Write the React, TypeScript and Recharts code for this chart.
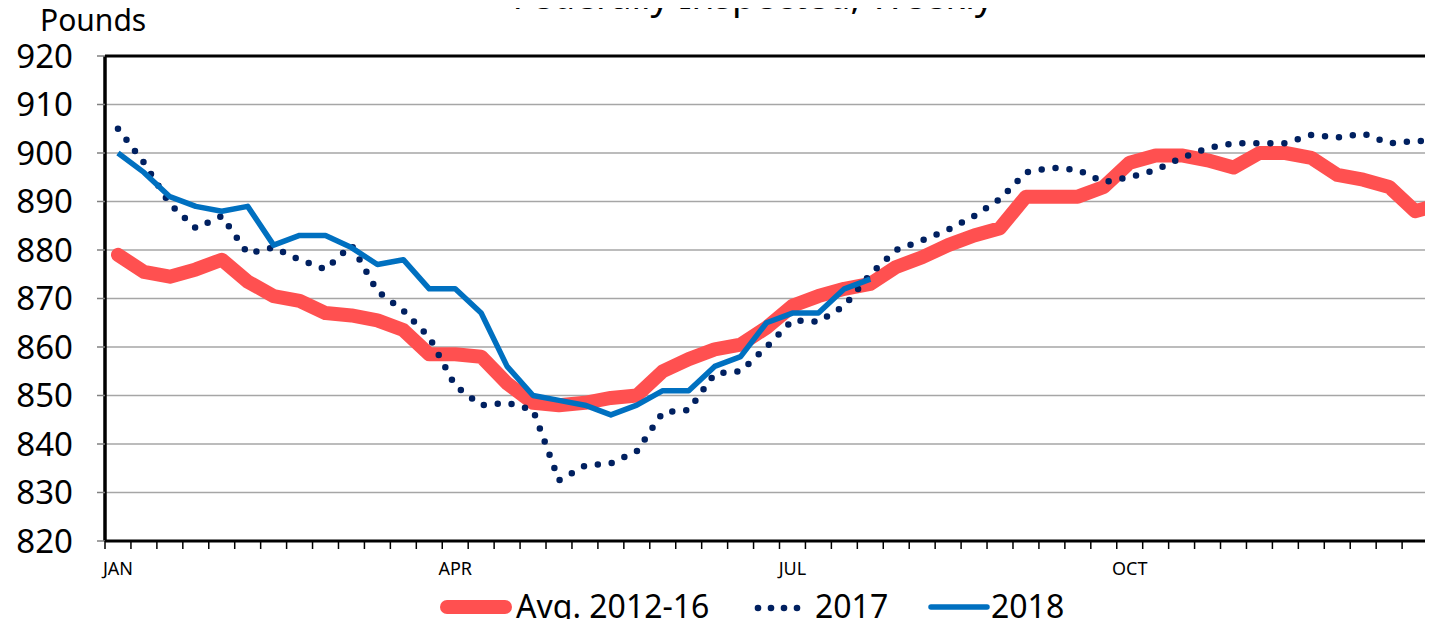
import React from "react";
import {
  LineChart,
  Line,
  XAxis,
  YAxis,
  CartesianGrid,
  ReferenceLine,
} from "recharts";

// Week numbers of the year (52 weekly points)
const weeks: number[] = Array.from({ length: 52 }, (_, i) => i + 1);

// Month labels and the week they start on
const monthLabels: string[] = ["JAN", "APR", "JUL", "OCT"];
const monthWeeks: number[] = [1, 14, 27, 40];

const yTicks: number[] = [820, 830, 840, 850, 860, 870, 880, 890, 900, 910, 920];

// Avg. 2012-16
const avg: number[] = [
  879, 875.5, 874.5, 876, 878, 873.5, 870.5, 869.5, 867, 866.5,
  865.5, 863.5, 858.5, 858.5, 858, 852.5, 848.5, 848, 848.5, 849.5,
  850, 855, 857.5, 859.5, 860.5, 864, 868.5, 870.5, 872, 873,
  876.5, 878.5, 881, 883, 884.5, 891, 891, 891, 893, 898,
  899.5, 899.5, 898.5, 897, 900, 900, 899, 895.5, 894.5, 893,
  888, 889.5,
];

// 2017
const y2017: number[] = [
  905, 898, 889.5, 884.5, 887, 879.3, 880.5, 878, 876, 881,
  871.5, 867.5, 862, 852, 848, 848.5, 847, 832.5, 835.5, 836,
  838.5, 846.5, 847, 854.5, 855, 860, 865.5, 865.2, 868.5, 875,
  880, 882, 884.2, 887, 890.5, 896, 897, 896.5, 894, 895,
  896.5, 899, 901, 902, 902, 902, 903.7, 903.2, 904, 902,
  902.5, 902.5,
];

// 2018 (through week 30)
const y2018: number[] = [
  900, 896, 891, 889, 888, 889, 881, 883, 883, 880.5,
  877, 878, 872, 872, 867, 856, 850, 849, 848, 846,
  848, 851, 851, 856, 858, 865, 867, 867, 872, 874,
];

const data = weeks.map((w, i) => ({
  x: w - 0.5,
  avg: avg[i],
  y2017: y2017[i],
  y2018: i < y2018.length ? y2018[i] : null,
}));

// tick marks at week boundaries, labels at the middle of the month's first week
const boundaryTicks = Array.from({ length: weeks.length + 1 }, (_, i) => i);
const labelTicks = monthWeeks.map((w) => w - 0.5);
const xTicks = [...boundaryTicks, ...labelTicks].sort((a, b) => a - b);

const FONT = "'Noto Sans', 'Open Sans', sans-serif";

const RED = "#FF5050";
const NAVY = "#002060";
const BLUE = "#0070C0";

const XTick = (props: any) => {
  const { x, y, payload } = props;
  const v = payload.value;
  if (Number.isInteger(v)) {
    return <line x1={x} x2={x} y1={y} y2={y + 8} stroke="#000" strokeWidth={1.5} />;
  }
  const idx = labelTicks.indexOf(v);
  return (
    <text x={x} y={y + 34} textAnchor="middle" fontSize={18} fontFamily={FONT} fill="#000">
      {monthLabels[idx]}
    </text>
  );
};

export default function App() {
  return (
    <div
      style={{
        position: "relative",
        width: 1433,
        height: 627,
        margin: -8,
        overflow: "hidden",
        background: "#fff",
      }}
    >
      <LineChart
        width={1480}
        height={627}
        data={data}
        margin={{ top: 56, right: 26, left: 10, bottom: 46 }}
      >
        <CartesianGrid vertical={false} stroke="#A6A6A6" strokeWidth={1.5} />
        <XAxis
          type="number"
          dataKey="x"
          domain={[0, 52]}
          ticks={xTicks}
          interval={0}
          height={40}
          tickSize={0}
          tickMargin={0}
          tickLine={false}
          tick={<XTick />}
          axisLine={{ stroke: "#000", strokeWidth: 3 }}
        />
        <YAxis
          domain={[820, 920]}
          ticks={yTicks}
          interval={0}
          width={95}
          tickSize={8}
          tickMargin={24}
          tickLine={{ stroke: "#808080", strokeWidth: 1.5 }}
          axisLine={{ stroke: "#000", strokeWidth: 3.5 }}
          tick={{ fontSize: 33, fill: "#000", fontFamily: FONT }}
        />
        <ReferenceLine y={920} stroke="#000" strokeWidth={3} />
        <Line
          type="linear"
          dataKey="avg"
          stroke={RED}
          strokeWidth={14}
          strokeLinejoin="round"
          strokeLinecap="round"
          dot={false}
          isAnimationActive={false}
        />
        <Line
          type="linear"
          dataKey="y2017"
          stroke={NAVY}
          strokeWidth={6.5}
          strokeDasharray="0 14"
          strokeLinecap="round"
          dot={false}
          isAnimationActive={false}
        />
        <Line
          type="linear"
          dataKey="y2018"
          stroke={BLUE}
          strokeWidth={5.5}
          strokeLinejoin="round"
          dot={false}
          connectNulls={false}
          isAnimationActive={false}
        />
      </LineChart>

      {/* Title, unit label and legend */}
      <svg
        width={1433}
        height={627}
        style={{ position: "absolute", left: 0, top: 0, pointerEvents: "none" }}
      >
        <text x={753} y={9} textAnchor="middle" fontSize={37} fontFamily={FONT} fill="#000">
          Federally Inspected, Weekly
        </text>
        <text x={40} y={31} fontSize={30} fontFamily={FONT} fill="#000">
          Pounds
        </text>

        <line x1={447} x2={505} y1={607} y2={607} stroke={RED} strokeWidth={14} strokeLinecap="round" />
        <text x={516} y={618} fontSize={32} fontFamily={FONT} fill="#000">
          Avg. 2012-16
        </text>

        {[758, 771, 784, 797].map((cx) => (
          <circle key={cx} cx={cx} cy={608} r={3.3} fill={NAVY} />
        ))}
        <text x={815} y={618} fontSize={32} fontFamily={FONT} fill="#000">
          2017
        </text>

        <line x1={931} x2={987} y1={607} y2={607} stroke={BLUE} strokeWidth={5.5} strokeLinecap="round" />
        <text x={991} y={618} fontSize={32} fontFamily={FONT} fill="#000">
          2018
        </text>
      </svg>
    </div>
  );
}
